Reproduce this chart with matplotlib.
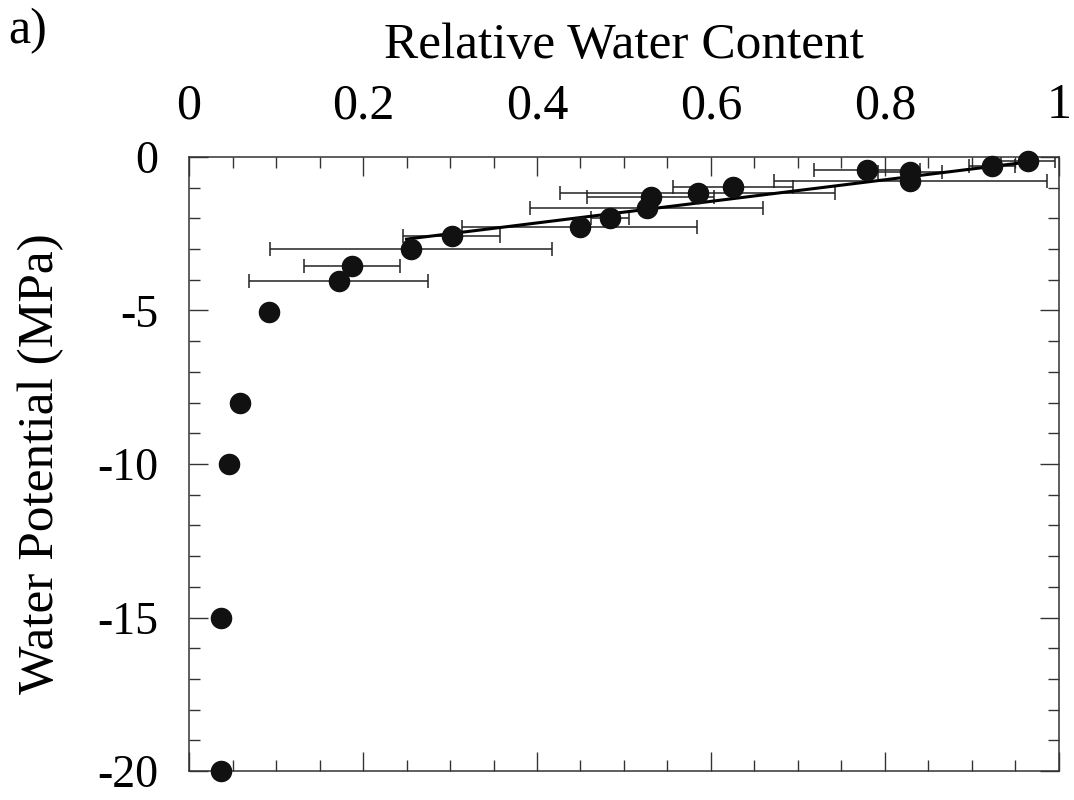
import matplotlib
matplotlib.use("Agg")
import matplotlib.pyplot as plt
from matplotlib.ticker import MultipleLocator, FormatStrFormatter

plt.rcParams['font.family'] = ['Liberation Serif', 'DejaVu Serif']
plt.rcParams['axes.unicode_minus'] = False

# relative water content vs water potential (MPa)
rwc = [0.037, 0.037, 0.046, 0.059, 0.092, 0.172, 0.187, 0.255, 0.302, 0.449,
       0.484, 0.526, 0.531, 0.585, 0.625, 0.779, 0.829, 0.829, 0.923, 0.964]
psi = [-20.0, -15.0, -10.0, -8.0, -5.04, -4.04, -3.55, -3.0, -2.58, -2.30,
       -2.0, -1.68, -1.32, -1.17, -0.97, -0.42, -0.48, -0.78, -0.29, -0.13]
# half width of the horizontal error bars (0 = no bar)
rwc_err = [0, 0, 0, 0, 0, 0.103, 0.055, 0.162, 0.056, 0.135,
           0.022, 0.134, 0.073, 0.158, 0.069, 0.061, 0.037, 0.157, 0.026, 0.031]

# fitted line endpoints
fit_x = [0.25, 0.97]
fit_y = [-2.68, -0.15]

fig = plt.figure(figsize=(10.74, 8), dpi=100)
ax = fig.add_axes([0.176, 0.036, 0.81, 0.768])

# error bars first (only where there is one)
ex = [x for x, e in zip(rwc, rwc_err) if e > 0]
ey = [y for y, e in zip(psi, rwc_err) if e > 0]
ee = [e for e in rwc_err if e > 0]
ax.errorbar(ex, ey, xerr=ee, fmt='none', ecolor='#222222', elinewidth=1.1,
            capsize=5, capthick=1.1, zorder=2)

ax.plot(fit_x, fit_y, color='black', lw=2.2, zorder=3)
ax.plot(rwc, psi, 'o', color='#111111', ms=14.5, zorder=4, clip_on=False)

ax.set_xlim(0, 1)
ax.set_ylim(-20, 0)

ax.xaxis.set_major_locator(MultipleLocator(0.2))
ax.xaxis.set_minor_locator(MultipleLocator(0.05))
ax.yaxis.set_major_locator(MultipleLocator(5))
ax.yaxis.set_minor_locator(MultipleLocator(1))
ax.xaxis.set_major_formatter(FormatStrFormatter('%g'))
ax.yaxis.set_major_formatter(FormatStrFormatter('%g'))

ax.tick_params(which='both', direction='in', top=True, bottom=True,
               left=True, right=True, labeltop=True, labelbottom=False,
               width=1.0, color='#333333')
ax.tick_params(which='major', length=14, pad=20)
ax.tick_params(axis='x', which='major', labelsize=36)
ax.tick_params(axis='y', which='major', labelsize=33, pad=22)
ax.tick_params(which='minor', length=8)

for s in ax.spines.values():
    s.set_linewidth(1.1)
    s.set_color('#333333')

ax.xaxis.set_label_position('top')
ax.set_xlabel('Relative Water Content', fontsize=37, labelpad=18)
ax.set_ylabel('Water Potential (MPa)', fontsize=37, labelpad=24)

fig.text(0.008, 0.99, 'a)', fontsize=36, va='top', ha='left')

fig.savefig('out.png', dpi=100)
